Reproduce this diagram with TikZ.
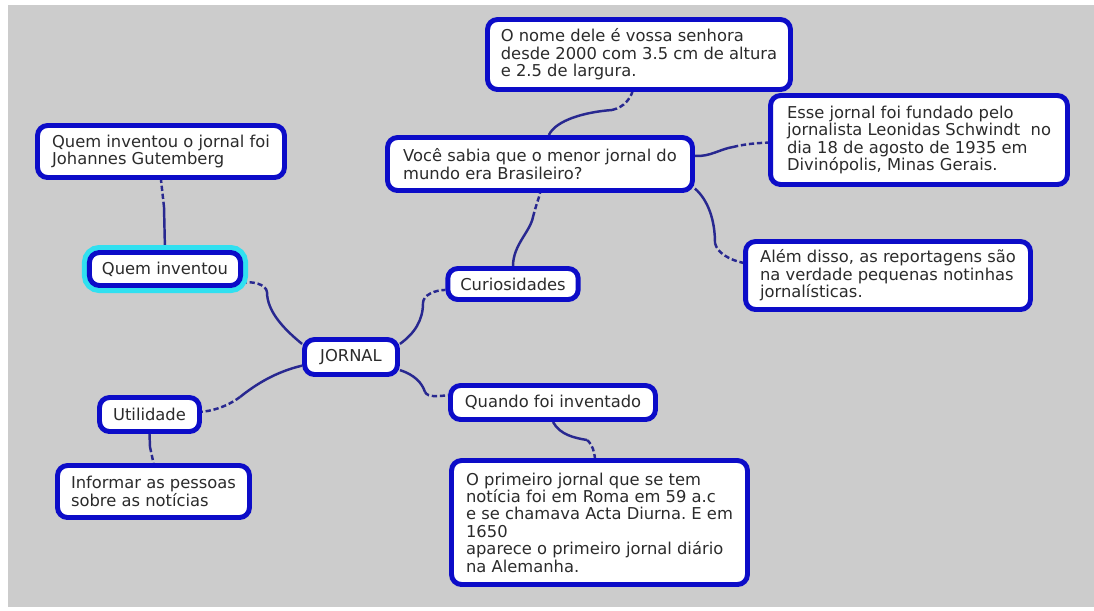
\documentclass[tikz,border=0pt]{standalone}
\usepackage{fontspec}
\setmainfont{DejaVu Sans}
\usetikzlibrary{backgrounds}
\frenchspacing

\definecolor{fundo}{RGB}{204,204,204}
\definecolor{borda}{RGB}{12,12,200}
\definecolor{linha}{RGB}{40,40,144}
\definecolor{brilho}{RGB}{48,224,240}
\definecolor{texto}{RGB}{43,43,43}

\newcommand{\letra}{\fontsize{9.3pt}{9.9pt}\selectfont}

\tikzset{
    caixa/.style={draw=borda, line width=2.8pt, rounded corners=0.2cm, fill=white,
        text=texto, inner xsep=0.25cm, inner ysep=0pt, font=\letra, align=left},
    liga/.style={draw=linha, line width=1.4pt},
    ligatraco/.style={draw=linha, line width=1.4pt, dash pattern=on 3pt off 1.6pt},
}

\begin{document}
\begin{tikzpicture}[x=0.02cm, y=-0.02cm]

\useasboundingbox (0,0) rectangle (1094,610);

\node[caixa, minimum width=6.06cm, minimum height=1.40cm] (nome) at (639,54.5)
    {O nome dele é vossa senhora\\desde 2000 com 3.5 cm de altura\\e 2.5 de largura.};
\node[caixa, minimum width=5.94cm, minimum height=1.78cm] (esse) at (919,140)
    {Esse jornal foi fundado pelo\\jornalista Leonidas Schwindt\ \ no\\dia 18 de agosto de 1935 em\\Divinópolis, Minas Gerais.};
\node[caixa, minimum width=4.94cm, minimum height=1.04cm] (quemfoi) at (161,151.5)
    {Quem inventou o jornal foi\\Johannes Gutemberg};
\node[caixa, minimum width=6.10cm, minimum height=1.06cm] (voce) at (540,164)
    {Você sabia que o menor jornal do\\mundo era Brasileiro?};
\node[caixa, minimum width=2.98cm, minimum height=0.66cm,
      preaction={draw=brilho, line width=0.3cm}] (quem) at (165,269) {Quem inventou};
\node[caixa, minimum width=2.58cm, minimum height=0.62cm] (curios) at (513,284) {Curiosidades};
\node[caixa, minimum width=5.70cm, minimum height=1.36cm] (alem) at (888,275.5)
    {Além disso, as reportagens são\\na verdade pequenas notinhas\\jornalísticas.};
\node[caixa, minimum width=1.86cm, minimum height=0.70cm] (jornal) at (351,357) {JORNAL};
\node[caixa, minimum width=2.00cm, minimum height=0.68cm] (util) at (149.5,414.5) {Utilidade};
\node[caixa, minimum width=4.10cm, minimum height=0.68cm] (quando) at (553,402.5) {Quando foi inventado};
\node[caixa, minimum width=3.84cm, minimum height=1.04cm] (informar) at (153.5,491.5)
    {Informar as pessoas\\sobre as notícias};
\node[caixa, minimum width=5.92cm, minimum height=2.48cm] (primeiro) at (599.5,522.5)
    {O primeiro jornal que se tem\\notícia foi em Roma em 59 a.c\\e se chamava Acta Diurna. E em\\1650\\aparece o primeiro jornal diário\\na Alemanha.};

    \coordinate (B1) at (267,292);
    \coordinate (B2) at (164,207);
    \coordinate (B3) at (423,303);
    \coordinate (B4) at (425,392);
    \coordinate (B5) at (240,397);
    \coordinate (B6) at (150,447);
    \coordinate (B7) at (533,217);
    \coordinate (B8) at (612,110);
    \coordinate (B9) at (733,147);
    \coordinate (B10) at (715,243);
    \coordinate (B11) at (587,440);

\begin{scope}[on background layer]
\fill[white] (0,0) rectangle (1094,610);
\fill[fundo] (8,5) rectangle (1094,607);

\draw[liga] (jornal.165) .. controls (285,330) and (267,312) .. (B1);
\draw[ligatraco] (B1) .. controls (266,284) and (252,281) .. (quem.-10);
\draw[liga] (quem.north) -- (B2);
\draw[ligatraco] (B2) -- (quemfoi.south);
\draw[liga] (jornal.15) .. controls (415,333) and (423,320) .. (B3);
\draw[ligatraco] (B3) .. controls (423,295) and (435,290) .. (curios.185);
\draw[liga] (jornal.-15) .. controls (415,375) and (422,383) .. (B4);
\draw[ligatraco] (B4) .. controls (428,398) and (440,396) .. (quando.176);
\draw[liga] (jornal.190) .. controls (275,372) and (255,385) .. (B5);
\draw[ligatraco] (B5) .. controls (225,408) and (210,411) .. (util.3);
\draw[liga] (util.south) -- (B6);
\draw[ligatraco] (B6) -- (informar.north);
\draw[liga] (curios.north) .. controls (513,245) and (530,232) .. (B7);
\draw[ligatraco] (B7) .. controls (536,205) and (539,198) .. (voce.south);
\draw[liga] (voce.73) .. controls (556,120) and (585,112) .. (B8);
\draw[ligatraco] (B8) .. controls (625,107) and (630,98) .. (nome.-100);
\draw[liga] (voce.3) .. controls (710,157) and (720,149) .. (B9);
\draw[ligatraco] (B9) .. controls (745,144) and (757,143) .. (esse.181);
\draw[liga] (voce.-9) .. controls (708,200) and (715,220) .. (B10);
\draw[ligatraco] (B10) .. controls (717,253) and (730,260) .. (alem.175);
\draw[liga] (quando.south) .. controls (560,435) and (575,438) .. (B11);
\draw[ligatraco] (B11) .. controls (593,445) and (594,452) .. (primeiro.94);
\end{scope}

\end{tikzpicture}
\end{document}
